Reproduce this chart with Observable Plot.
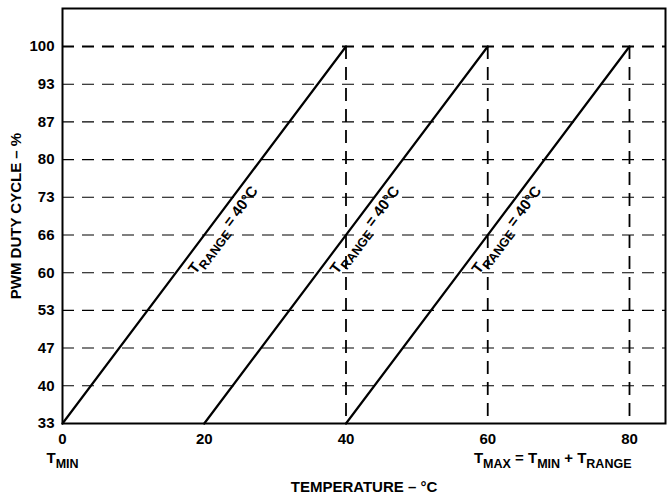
<!DOCTYPE html>
<html>
<head>
<meta charset="utf-8">
<script src="https://cdn.jsdelivr.net/npm/d3@7"></script>
<script src="https://cdn.jsdelivr.net/npm/@observablehq/plot@0.6"></script>
<style>
  html, body { margin: 0; padding: 0; background: #fff; }
  #chart svg { display: block; }
</style>
</head>
<body>
<div id="chart"></div>
<script>
// ---- data ----
const temperatureTicks = [0, 20, 40, 60, 80];
const dutyTicks = [33.33, 40, 46.67, 53.33, 60, 66.67, 73.33, 80, 86.67, 93.33, 100];
const dutyTickLabels = ["33", "40", "47", "53", "60", "66", "73", "80", "87", "93", "100"];
const tMinValues = [0, 20, 40];
const tMaxValues = [40, 60, 80];
const dutyMin = 33.33;
const dutyMax = 100;
const rangeLabel = "T_{RANGE} = 40°C";
const tMinLabel = "T_{MIN}";
const tMaxLabel = "T_{MAX} = T_{MIN} + T_{RANGE}";
const xTitle = "TEMPERATURE – °C";
const yTitle = "PWM DUTY CYCLE – %";

// ---- derived tables ----
const lineData = tMinValues.flatMap((t, i) => [
  {k: i, t: t, d: dutyMin},
  {k: i, t: tMaxValues[i], d: dutyMax}
]);
const labelData = tMinValues.map((t, i) => ({t: (t + tMaxValues[i]) / 2, d: (dutyMin + dutyMax) / 2, text: rangeLabel}));
const tickLabelOf = new Map(dutyTicks.map((v, i) => [v, dutyTickLabels[i]]));
const innerTicks = dutyTicks.filter(d => d > dutyMin && d < dutyMax);

const FONT = "'Liberation Sans', Arial, Helvetica, sans-serif";
const FS = 15;
const SUB = 12.5;

const chart = Plot.plot({
  width: 668,
  height: 493,
  marginLeft: 62,
  marginRight: 3,
  marginTop: 8,
  marginBottom: 70,
  style: {fontFamily: FONT, fontWeight: "bold", fontSize: FS + "px", color: "#000", background: "#fff"},
  x: {domain: [0, 85.08], ticks: temperatureTicks, tickSize: 0, tickPadding: 10, label: null},
  y: {domain: [33.33, 106.72], ticks: dutyTicks, tickFormat: d => tickLabelOf.get(d), tickSize: 0, tickPadding: 8, label: null},
  marks: [
    Plot.ruleY(innerTicks, {stroke: "#000", strokeWidth: 1.1, strokeDasharray: "12,8"}),
    Plot.ruleY([dutyMax], {stroke: "#000", strokeWidth: 1.8, strokeDasharray: "12,8"}),
    Plot.ruleX(tMaxValues, {y1: dutyMax, y2: dutyMin, stroke: "#000", strokeWidth: 1.8, strokeDasharray: "13,8"}),
    Plot.line(lineData, {x: "t", y: "d", z: "k", stroke: "#000", strokeWidth: 2.2}),
    Plot.frame({stroke: "#000", strokeWidth: 2}),
    Plot.text(labelData, {x: "t", y: "d", text: "text", rotate: -53.1, dx: 19, dy: -5, textAnchor: "middle", lineAnchor: "middle", fontSize: FS, fontWeight: "bold", fill: "#000"}),
    Plot.text([tMinLabel], {x: () => tMinValues[0], frameAnchor: "bottom", text: d => d, dy: 39, textAnchor: "middle", lineAnchor: "bottom", fontSize: FS, fill: "#000"}),
    Plot.text([tMaxLabel], {x: () => tMaxValues[tMaxValues.length - 1], frameAnchor: "bottom", text: d => d, dx: 2, dy: 39, textAnchor: "end", lineAnchor: "bottom", fontSize: FS, fill: "#000"}),
    Plot.text([xTitle], {frameAnchor: "bottom", text: d => d, dy: 68, textAnchor: "middle", lineAnchor: "bottom", fontSize: FS, fill: "#000"}),
    Plot.text([yTitle], {frameAnchor: "left", text: d => d, dx: -46, rotate: -90, textAnchor: "middle", lineAnchor: "middle", fontSize: FS, fill: "#000"})
  ]
});

// subscripts: replace "_{...}" segments with lowered, smaller tspans
function applySubscripts(svg) {
  svg.querySelectorAll("text").forEach(t => {
    const s = t.textContent;
    if (!s.includes("_{")) return;
    while (t.firstChild) t.removeChild(t.firstChild);
    const re = /_\{([^}]*)\}/g;
    let last = 0, m, lowered = false;
    const add = (str, sub) => {
      const ts = document.createElementNS("http://www.w3.org/2000/svg", "tspan");
      ts.textContent = str;
      if (sub) {
        ts.setAttribute("font-size", SUB);
        ts.setAttribute("dy", 5);
        lowered = true;
      } else if (lowered) {
        ts.setAttribute("dy", -5);
        lowered = false;
      }
      t.appendChild(ts);
    };
    while ((m = re.exec(s))) {
      if (m.index > last) add(s.slice(last, m.index), false);
      add(m[1], true);
      last = re.lastIndex;
    }
    if (last < s.length) add(s.slice(last), false);
  });
}
applySubscripts(chart);
document.getElementById("chart").appendChild(chart);
</script>
</body>
</html>
